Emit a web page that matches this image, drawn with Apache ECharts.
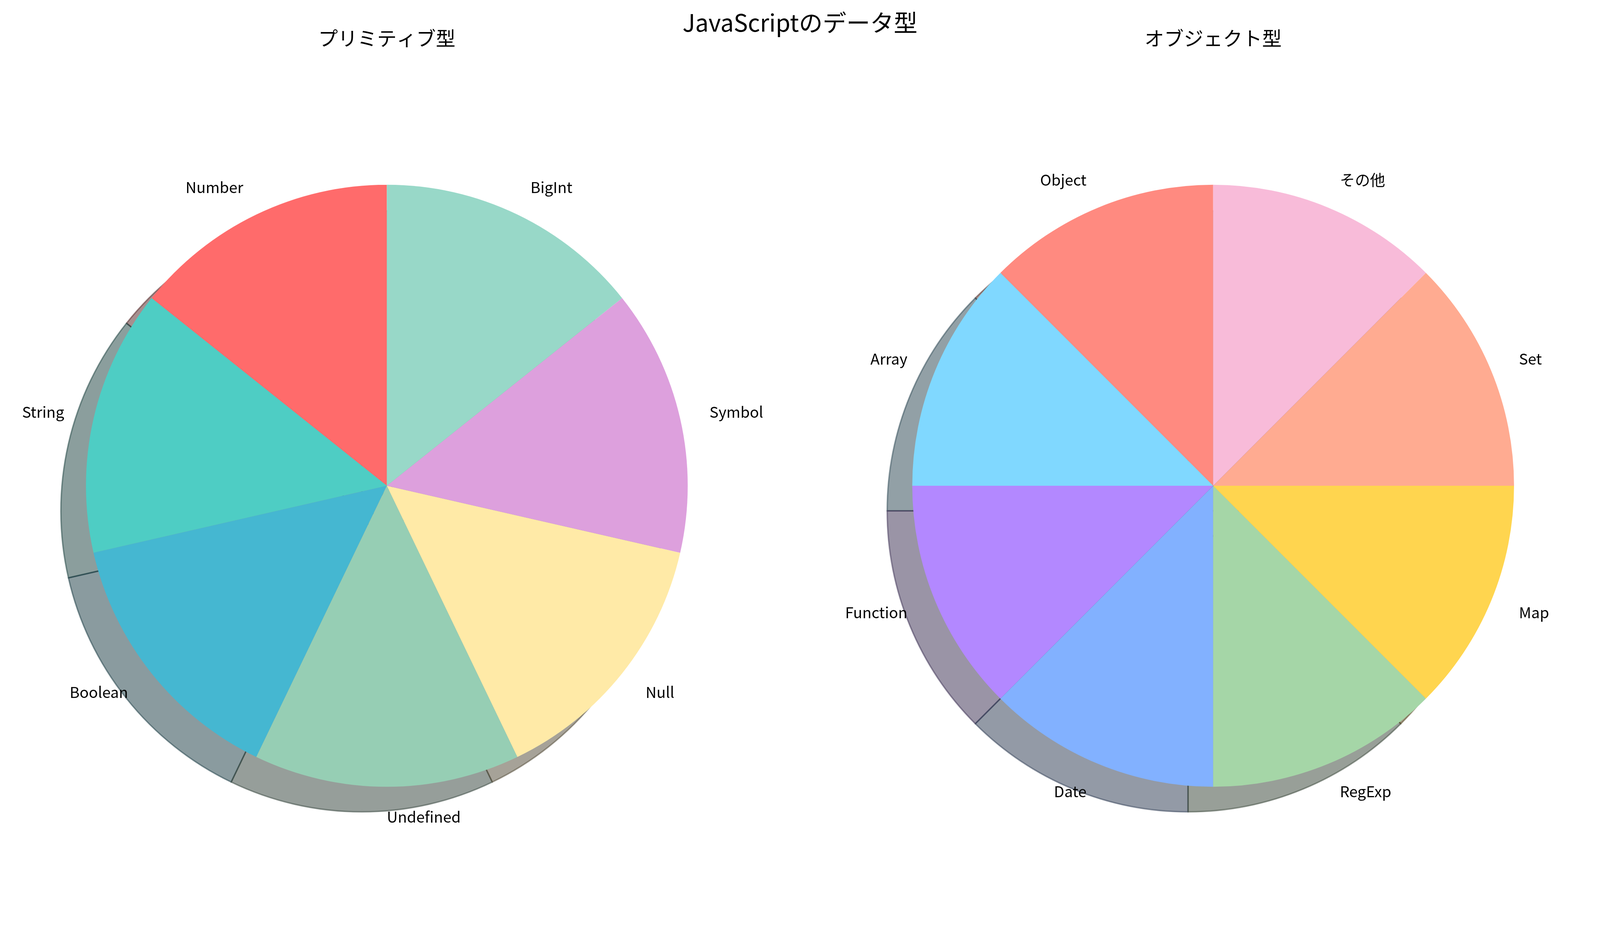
<!DOCTYPE html>
<html>
<head>
<meta charset="utf-8">
<script src="https://cdn.jsdelivr.net/npm/echarts@6/dist/echarts.min.js"></script>
<style>
    html, body { margin: 0; padding: 0; background: #fff; overflow: hidden; }
    #main { width: 100vw; height: 100vh; }
</style>
</head>
<body>
<div id="main"></div>
<script type="text/javascript">
    // データ
    var primitiveNames = ['Number', 'String', 'Boolean', 'Undefined', 'Null', 'Symbol', 'BigInt'];
    var primitiveValues = [1, 1, 1, 1, 1, 1, 1];
    var primitiveColors = ['#FF6B6B', '#4ECDC4', '#45B7D1', '#96CEB4', '#FFEAA7', '#DDA0DD', '#98D8C8'];

    var objectNames = ['Object', 'Array', 'Function', 'Date', 'RegExp', 'Map', 'Set', 'その他'];
    var objectValues = [1, 1, 1, 1, 1, 1, 1, 1];
    var objectColors = ['#FF8A80', '#80D8FF', '#B388FF', '#82B1FF', '#A5D6A7', '#FFD54F', '#FFAB91', '#F8BBD9'];

    var FONT = '"Noto Sans CJK JP", "Noto Sans", sans-serif';

    // 基準サイズ 4653x2367 に対するスケール
    var dom = document.getElementById('main');
    var W = dom.clientWidth || window.innerWidth;
    var H = dom.clientHeight || window.innerHeight;
    var sx = W / 4653, sy = H / 2367;
    var s = Math.min(sx, sy);

    var R = 875 * s;
    var SHADOW = 73 * s;
    var leftCenter = [1125 * sx, 1243 * sy];
    var rightCenter = [3528 * sx, 1243 * sy];

    function shadowColor(hex) {
        var r = parseInt(hex.slice(1, 3), 16) * 0.3;
        var g = parseInt(hex.slice(3, 5), 16) * 0.3;
        var b = parseInt(hex.slice(5, 7), 16) * 0.3;
        return 'rgba(' + r.toFixed(0) + ',' + g.toFixed(0) + ',' + b.toFixed(0) + ',0.5)';
    }

    function mainData(names, values, colors) {
        return names.map(function (n, i) {
            return {name: n, value: values[i], itemStyle: {color: colors[i]}};
        });
    }

    function shadowData(names, values, colors) {
        return names.map(function (n, i) {
            var c = shadowColor(colors[i]);
            return {name: n, value: values[i], itemStyle: {color: c, borderColor: c, borderWidth: 4 * s}};
        });
    }

    function shadowSeries(center, names, values, colors) {
        return {
            type: 'pie',
            silent: true,
            animation: false,
            z: 1,
            clockwise: false,
            startAngle: 90.0001,
            radius: [0, R],
            center: [center[0] - SHADOW, center[1] + SHADOW],
            label: {show: false},
            labelLine: {show: false},
            emphasis: {disabled: true},
            data: shadowData(names, values, colors)
        };
    }

    function mainSeries(center, names, values, colors) {
        return {
            type: 'pie',
            animation: false,
            z: 2,
            clockwise: false,
            startAngle: 90.0001,
            radius: [0, R],
            center: center,
            avoidLabelOverlap: false,
            itemStyle: {borderWidth: 0},
            label: {
                show: true,
                position: 'outside',
                color: '#000',
                fontSize: 44 * s,
                fontFamily: FONT,
                distanceToLabelLine: 0
            },
            labelLine: {show: false, length: R * 0.1, length2: 0},
            emphasis: {disabled: true},
            data: mainData(names, values, colors)
        };
    }

    var myChart = echarts.init(dom);

    var option = {
        backgroundColor: '#fff',
        title: [
            {
                text: 'JavaScriptのデータ型',
                left: 'center',
                top: 28 * sy,
                padding: 0,
                textStyle: {fontSize: 69 * s, fontWeight: 'normal', color: '#000', fontFamily: FONT}
            },
            {
                text: 'プリミティブ型',
                left: leftCenter[0],
                textAlign: 'center',
                top: 73 * sy,
                padding: 0,
                textStyle: {fontSize: 57 * s, fontWeight: 'normal', color: '#000', fontFamily: FONT}
            },
            {
                text: 'オブジェクト型',
                left: rightCenter[0],
                textAlign: 'center',
                top: 73 * sy,
                padding: 0,
                textStyle: {fontSize: 57 * s, fontWeight: 'normal', color: '#000', fontFamily: FONT}
            }
        ],
        series: [
            shadowSeries(leftCenter, primitiveNames, primitiveValues, primitiveColors),
            mainSeries(leftCenter, primitiveNames, primitiveValues, primitiveColors),
            shadowSeries(rightCenter, objectNames, objectValues, objectColors),
            mainSeries(rightCenter, objectNames, objectValues, objectColors)
        ]
    };

    myChart.setOption(option);
</script>
</body>
</html>
